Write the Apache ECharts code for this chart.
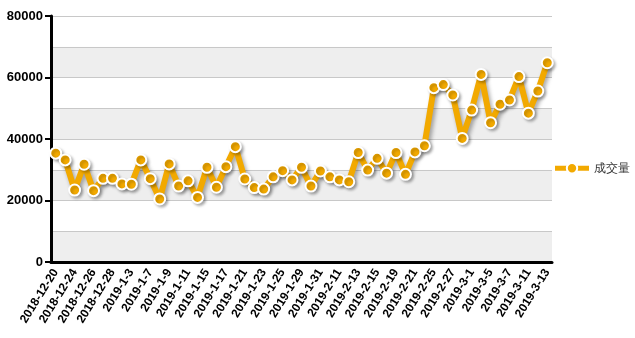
<!DOCTYPE html>
<html>
<head>
<meta charset="utf-8">
<script src="https://cdn.jsdelivr.net/npm/echarts@6/dist/echarts.min.js"></script>
<style>html,body{margin:0;padding:0;background:#fff}#c{width:635px;height:338px}</style>
</head>
<body>
<div id="c"></div>
<script>
const categories = ['2018-12-20','2018-12-21','2018-12-24','2018-12-25','2018-12-26','2018-12-27','2018-12-28',
'2019-1-2','2019-1-3','2019-1-4','2019-1-7','2019-1-8','2019-1-9','2019-1-10','2019-1-11',
'2019-1-14','2019-1-15','2019-1-16','2019-1-17','2019-1-18','2019-1-21','2019-1-22','2019-1-23','2019-1-24','2019-1-25',
'2019-1-28','2019-1-29','2019-1-30','2019-1-31','2019-2-1','2019-2-11','2019-2-12','2019-2-13','2019-2-14','2019-2-15',
'2019-2-18','2019-2-19','2019-2-20','2019-2-21','2019-2-22','2019-2-25','2019-2-26','2019-2-27','2019-2-28','2019-3-1',
'2019-3-4','2019-3-5','2019-3-6','2019-3-7','2019-3-8','2019-3-11','2019-3-12','2019-3-13'];
const volume = [35400,33200,23400,31800,23200,27200,27200,25400,25300,33200,27100,20500,31900,24700,26400,
21000,30800,24300,31000,37500,27000,24200,23700,27700,29700,26700,30800,24700,29600,27700,26700,26100,
35600,29900,33700,28900,35600,28500,35800,37800,56700,57700,54300,40200,49400,61000,45300,51300,52700,
60300,48400,55600,64800];
const seriesName = '成交量';
const yMin = 0, yMax = 80000, yLabelStep = 20000, yGridStep = 10000;

const chart = echarts.init(document.getElementById('c'));
const font = 'Arial, "Liberation Sans", sans-serif';
chart.setOption({
  animation: false,
  grid: {left: 51, right: 83, top: 16, bottom: 76, containLabel: false},
  legend: {
    data: [seriesName], right: 0, top: 157, orient: 'vertical',
    itemWidth: 34, itemHeight: 13, itemGap: 4,
    lineStyle: {width: 5},
    textStyle: {fontSize: 12, color: '#333', fontFamily: font}
  },
  xAxis: {
    type: 'category', data: categories, boundaryGap: true,
    axisLine: {lineStyle: {color: '#000', width: 3}},
    axisTick: {interval: 1, length: 5, lineStyle: {color: '#000', width: 2}},
    axisLabel: {interval: 1, rotate: 58, margin: 8, color: '#000', fontWeight: 'bold', fontSize: 12, fontFamily: font},
    splitLine: {show: false}
  },
  yAxis: [{
    type: 'value', min: yMin, max: yMax, interval: yLabelStep,
    axisLine: {show: true, lineStyle: {color: '#000', width: 3}},
    axisTick: {show: true, length: 6, lineStyle: {color: '#000', width: 2}},
    axisLabel: {color: '#000', fontWeight: 'bold', fontSize: 13, margin: 8, fontFamily: font,
      formatter: function (v) { return String(v); }},
    splitLine: {show: false}, splitArea: {show: false}, z: 3
  }, {
    type: 'value', min: yMin, max: yMax, interval: yGridStep, position: 'left',
    axisLine: {show: false}, axisTick: {show: false}, axisLabel: {show: false},
    splitLine: {show: true, lineStyle: {color: '#c8c8c8', width: 1}},
    splitArea: {show: true, areaStyle: {color: ['#eeeeee', '#ffffff']}}, z: 0
  }],
  series: [{
    name: seriesName, type: 'line', data: volume, yAxisIndex: 0,
    symbol: 'circle', symbolSize: 11, showSymbol: true, showAllSymbol: true,
    lineStyle: {color: '#f2a900', width: 6, shadowColor: 'rgba(0,0,0,0.35)', shadowBlur: 4, shadowOffsetX: 2, shadowOffsetY: 3},
    itemStyle: {color: '#f2a900', borderColor: '#fff', borderWidth: 2, shadowColor: 'rgba(0,0,0,0.25)', shadowBlur: 3, shadowOffsetX: 2, shadowOffsetY: 2}
  }]
});
</script>
</body>
</html>
